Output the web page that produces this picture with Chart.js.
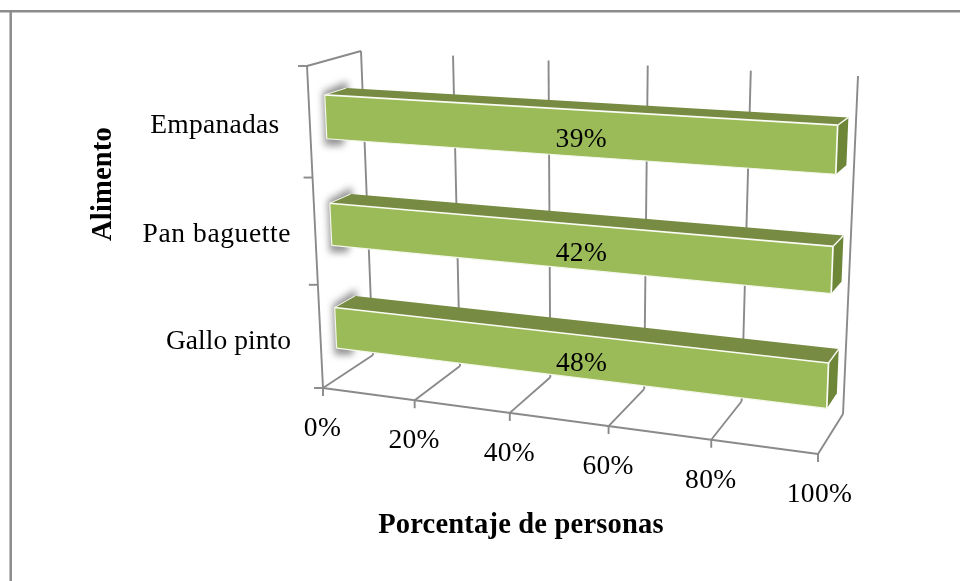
<!DOCTYPE html>
<html><head><meta charset="utf-8">
<style>html,body{margin:0;padding:0;background:#fff}canvas{display:block;filter:blur(0.45px)}</style>
<script src="https://cdn.jsdelivr.net/npm/chart.js@4"></script>
</head><body>
<canvas id="c" width="960" height="581"></canvas>
<script>
// Data
const categories = ['Empanadas ', 'Pan baguette', 'Gallo pinto'];
const shownPercent = [39, 42, 48];          // data labels
const plottedPercent = [100, 100, 100];     // single series of a 100% stacked bar
const xTicks = [0, 20, 40, 60, 80, 100];
const xTitle = 'Porcentaje de personas';
const yTitle = 'Alimento';

// 3D view of the plot box (projection only)
const FBL=[323,388],FBR=[818,454],FTL=[307,66],FTR=[831,93],
      BBL=[373,355],BBR=[843,414],BTL=[361,51],BTR=[858,76];
const warp=(t,k)=>t/(t+k*(1-t));
const mix=(a,b,t)=>[a[0]+(b[0]-a[0])*t,a[1]+(b[1]-a[1])*t];
function P(v,c,d){
  const u=warp(v,1.1),w=warp(c,1.06);
  const fb=mix(FBL,FBR,u),ft=mix(FTL,FTR,u),bb=mix(BBL,BBR,u),bt=mix(BTL,BTR,u);
  return mix(mix(fb,ft,w),mix(bb,bt,w),d);
}
const D0=.3,D1=.7;
const GRID='#8a8a8a',FRONT='#9BBB59',TOP='#778C42',SIDE='#6D8638',INK='#000';
const GW=1.9;
const SERIF='"Liberation Serif", serif';
const labelSpacing=[.3,.6,.05];
const labelLift=[11,10.5,12.5];

function poly(ctx,pts,fill){
  ctx.beginPath();pts.forEach((p,i)=>i?ctx.lineTo(p[0],p[1]):ctx.moveTo(p[0],p[1]));ctx.closePath();
  ctx.fillStyle=fill;ctx.fill();
}
function line(ctx,a,b,col,w){
  ctx.beginPath();ctx.moveTo(a[0],a[1]);ctx.lineTo(b[0],b[1]);ctx.strokeStyle=col;ctx.lineWidth=w;ctx.stroke();
}
const off=(p,dx,dy)=>[p[0]+dx,p[1]+dy];

const view3d={
  id:'view3d',
  beforeDatasetsDraw(chart){
    const ctx=chart.ctx,xs=chart.scales.x,ys=chart.scales.y,a=chart.chartArea;
    const vOf=val=>(xs.getPixelForValue(val)-a.left)/a.width;
    ctx.save();
    // outer frame
    line(ctx,[0,11.3],[960,11.3],'#8c8c8c',2.5);
    line(ctx,[10.7,10],[10.7,581],'#8c8c8c',2.5);
    ctx.lineCap='butt';
    // walls
    line(ctx,P(0,0,0),P(0,1,0),GRID,GW);
    line(ctx,P(0,1,0),P(0,1,1),GRID,GW);
    line(ctx,P(0,0,1),P(0,1,1),GRID,GW);
    line(ctx,P(0,0,0),P(1,0,0),GRID,GW);
    xTicks.forEach(t=>{
      const v=vOf(t);
      if(t>0) line(ctx,P(v,0,1),P(v,1,1),GRID,GW);
      line(ctx,P(v,0,0),P(v,0,1),GRID,GW);
      const p=P(v,0,0);
      line(ctx,p,off(p,0,8),GRID,GW);
      ctx.font='27.5px '+SERIF;ctx.fillStyle=INK;ctx.textAlign='center';ctx.textBaseline='alphabetic';
      ctx.letterSpacing='0.3px';
      ctx.fillText(t+'%',p[0]+(t===100?1.5:-0.5),p[1]+48);
    });
    // category ticks and labels
    const n=categories.length;
    for(let i=0;i<=n;i++){
      const p=P(0,i/n,0);
      line(ctx,p,off(p,-9,0),GRID,GW);
    }
    ctx.textAlign='right';
    categories.forEach((lab,i)=>{
      const c=(a.bottom-ys.getPixelForValue(i))/a.height;
      const p=P(0,c,0);
      ctx.letterSpacing=labelSpacing[i]+'px';
      ctx.fillText(lab,Math.min(p[0]-23,291),p[1]+labelLift[i]);
    });
    // axis titles
    ctx.font='bold 28.5px '+SERIF;ctx.textAlign='center';ctx.fillStyle='#000';ctx.letterSpacing='0.2px';
    ctx.fillText(xTitle,521,533);
    ctx.translate(111,184);ctx.rotate(-Math.PI/2);ctx.fillText(yTitle,0,0);
    ctx.restore();
  },
  afterDatasetsDraw(chart){
    const ctx=chart.ctx,a=chart.chartArea,meta=chart.getDatasetMeta(0);
    ctx.save();
    meta.data.forEach((el,i)=>{
      const v0=(el.base-a.left)/a.width,v1=(el.x-a.left)/a.width;
      const ct=(a.bottom-(el.y-el.height/2))/a.height,cb=(a.bottom-(el.y+el.height/2))/a.height;
      const ftl=P(v0,ct,D0),ftr=P(v1,ct,D0),fbr=P(v1,cb,D0),fbl=P(v0,cb,D0);
      const btl=P(v0,ct,D1),btr=P(v1,ct,D1),bbr=P(v1,cb,D1);
      // soft shadow behind the near end
      ctx.save();ctx.filter='blur(3.5px)';
      poly(ctx,[off(ftl,-2,-3),off(btl,1,-7),off(btl,3,30),off(fbl,16,7),off(fbl,-2,7)],'#959595');
      ctx.restore();
      // faces
      poly(ctx,[ftl,ftr,btr,btl],TOP);
      poly(ctx,[ftr,btr,bbr,fbr],SIDE);
      poly(ctx,[ftl,ftr,fbr,fbl],FRONT);
      // highlights
      ctx.lineJoin='round';
      line(ctx,ftl,ftr,'#fbfcf6',1.7);
      line(ctx,ftr,fbr,'#fbfcf6',1.7);
      line(ctx,ftr,btr,'#fbfcf6',1.4);
      line(ctx,ftl,btl,'#f4f7ea',1);
      line(ctx,fbl,fbr,'#f4f7ea',1.2);
      line(ctx,ftl,fbl,'#f4f7ea',1.2);
      // data label
      ctx.font='27.5px '+SERIF;ctx.fillStyle=INK;ctx.textAlign='center';ctx.textBaseline='alphabetic';
      ctx.letterSpacing='0.3px';
      const mx=(ftl[0]+ftr[0]+fbr[0]+fbl[0])/4,my=(ftl[1]+ftr[1]+fbr[1]+fbl[1])/4;
      ctx.fillText(shownPercent[i]+'%',mx,my+14);
    });
    ctx.restore();
  }
};

new Chart(document.getElementById('c'),{
  type:'bar',
  data:{labels:categories,datasets:[{label:yTitle,data:plottedPercent,backgroundColor:'rgba(0,0,0,0)',borderWidth:0,
    categoryPercentage:1,barPercentage:.4}]},
  options:{
    indexAxis:'y',responsive:false,animation:false,devicePixelRatio:1,
    layout:{padding:{left:320,right:130,top:66,bottom:127}},
    plugins:{legend:{display:false},tooltip:{enabled:false},title:{display:false}},
    scales:{
      x:{min:0,max:100,ticks:{display:false,stepSize:20},grid:{display:false},border:{display:false}},
      y:{ticks:{display:false},grid:{display:false},border:{display:false}}
    }
  },
  plugins:[view3d]
});
</script>
</body></html>
